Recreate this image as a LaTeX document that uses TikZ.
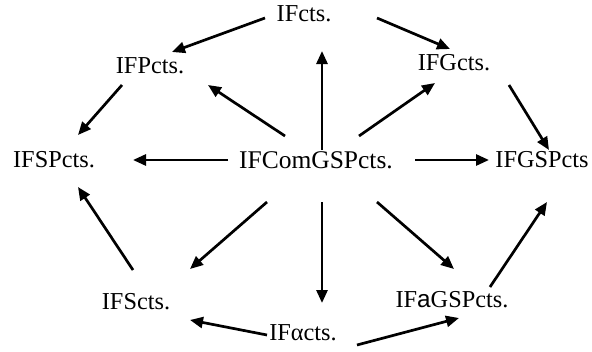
\documentclass[tikz,border=0pt]{standalone}
\usepackage{fontspec}
\setmainfont{Liberation Serif}
\setsansfont{Liberation Sans}
\usetikzlibrary{arrows.meta}

\begin{document}
\begin{tikzpicture}
		[x=1pt, y=-1pt, line width=2.7pt,
		arr/.style={-{Triangle[length=13pt,width=11pt]}},
		every node/.style={font=\fontsize{24.3}{27}\selectfont, inner sep=0pt}]
		\useasboundingbox (0,0) rectangle (592,351);
		% the nodes
		\node (cts) at (304,14){IFcts.};
		\node (ifp) at (150,66){IFPcts.};
		\node (ifg) at (454,63){IFGcts.};
		\node (isp) at (54,160){IFSPcts.};
		\node[font=\fontsize{25.5}{28}\selectfont] (com) at (316,160){IFComGSPcts.};
		\node (gsp) at (542,160){IFGSPcts};
		\node (ifs) at (136,302){IFScts.};
		\node (agsp) at (452,300){IF{\sffamily a}GSPcts.};
		\node (alp) at (303,333){IFαcts.};
		% the arrows
		\draw[arr] ([shift={(-39,4)}]cts.center) -- ([shift={(22,-14)}]ifp.center);
		\draw[arr] ([shift={(73,4)}]cts.center) -- ([shift={(-4,-14)}]ifg.center);
		\draw[arr] ([shift={(-28,19)}]ifp.center) -- ([shift={(24,-25)}]isp.center);
		\draw[arr] ([shift={(-31,-24)}]com.center) -- ([shift={(58,19)}]ifp.center);
		\draw[arr] ([shift={(6,-10)}]com.center) -- ([shift={(18,37)}]cts.center);
		\draw[arr] ([shift={(43,-24)}]com.center) -- ([shift={(-19,20)}]ifg.center);
		\draw[arr] ([shift={(55,22)}]ifg.center) -- ([shift={(7,-10)}]gsp.center);
		\draw[arr] ([shift={(-88,0)}]com.center) -- ([shift={(79,0)}]isp.center);
		\draw[arr] ([shift={(99,0)}]com.center) -- ([shift={(-53,0)}]gsp.center);
		\draw[arr] ([shift={(-49,42)}]com.center) -- ([shift={(54,-33)}]ifs.center);
		\draw[arr] ([shift={(-3,-32)}]ifs.center) -- ([shift={(24,27)}]isp.center);
		\draw[arr] ([shift={(6,42)}]com.center) -- ([shift={(19,-30)}]alp.center);
		\draw[arr] ([shift={(61,42)}]com.center) -- ([shift={(2,-31)}]agsp.center);
		\draw[arr] ([shift={(38,-13)}]agsp.center) -- ([shift={(5,42)}]gsp.center);
		\draw[arr] ([shift={(-36,2)}]alp.center) -- ([shift={(54,18)}]ifs.center);
		\draw[arr] ([shift={(54,12)}]alp.center) -- ([shift={(7,18)}]agsp.center);
\end{tikzpicture}
\end{document}
